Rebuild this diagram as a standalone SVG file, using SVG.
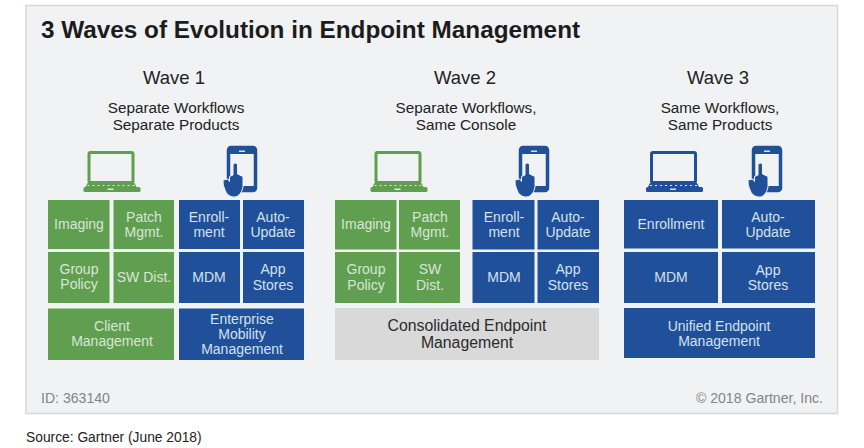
<svg xmlns="http://www.w3.org/2000/svg" width="864" height="448" viewBox="0 0 864 448">
<style>
text{font-family:"Liberation Sans",Arial,sans-serif;text-anchor:middle}
.g{fill:#5f9f4f}.b{fill:#1f5099}.k{fill:#d9d9d9}
.t{fill:#d8e6d8;font-size:14px}.u{fill:#d5e0ee;font-size:14px}
.w{font-size:18.5px;fill:#222}.s{font-size:15.300px;fill:#222}
.f{font-size:14.100px;fill:#808588}
.c{font-size:15.800px;fill:#2b2b2b}
</style>
<defs>
<g id="laptop">
<rect x="-22.500" y="-35.500" width="44" height="30" rx="1.500" fill="none" stroke="currentColor" stroke-width="3"/>
<path d="M-24 -5H23L25 -1H-26Z" fill="currentColor"/>
<rect x="-28" y="-1" width="57" height="5" rx="1.500" fill="currentColor"/>
<path d="M-24 -2.500H24" stroke="#dfe8df" stroke-width="1" stroke-dasharray="2 3"/>
<rect x="-4" y="0.500" width="6" height="1.500" fill="#dfe8df"/>
</g>
<g id="tablet">
<rect x="-13.500" y="-45.500" width="27" height="43" rx="2.500" fill="none" stroke="currentColor" stroke-width="3.500"/>
<rect x="-13" y="-44" width="26" height="5" fill="currentColor"/>
<rect x="-3" y="-42.500" width="6" height="1.500" fill="#d5e0ee"/>
<rect x="-12" y="-7" width="25" height="5" fill="currentColor"/>
<path d="M-9 -28Q-9 -30 -6.800 -30Q-4.500 -30 -4.500 -28V-19L1 -16.500V-6Q0 -1 -2 1Q-5 5 -9 4Q-15 3 -17 -3Q-19.500 -8 -19 -13L-14 -14L-12.500 -11.500V-16.500L-9 -18Z" fill="currentColor" stroke="#f1f2f3" stroke-width="1"/>
</g>
</defs>
<rect width="864" height="448" fill="#fff"/>
<rect x="26" y="5.500" width="811.500" height="408" fill="#f1f2f3" stroke="#d6d8da" stroke-width="1.500"/>
<text x="41" y="38" style="text-anchor:start;font-size:24.300px;font-weight:bold" fill="#1c1c1c">3 Waves of Evolution in Endpoint Management</text>
<g id="wave1">
<text class="w" x="174" y="84">Wave 1</text>
<text class="s" x="176" y="113">Separate Workflows</text>
<text class="s" x="176" y="130">Separate Products</text>
<use href="#laptop" x="111.500" y="188" color="#5f9f4f"/>
<use href="#tablet" x="242" y="193" color="#1f5099"/>
<rect class="g" x="48" y="200" width="61.500" height="49"/><text class="t" x="79" y="229">Imaging</text>
<rect class="g" x="113.500" y="200" width="60.500" height="49"/><text class="t" x="144" y="222">Patch</text><text class="t" x="144" y="237">Mgmt.</text>
<rect class="g" x="48" y="252" width="61.500" height="51"/><text class="t" x="79" y="274">Group</text><text class="t" x="79" y="289">Policy</text>
<rect class="g" x="113.500" y="252" width="60.500" height="51"/><text class="t" x="144" y="282">SW Dist.</text>
<rect class="g" x="48" y="308.500" width="126" height="51.500"/><text class="t" x="112" y="331">Client</text><text class="t" x="112" y="346">Management</text>
<rect class="b" x="179" y="200" width="61" height="49"/><text class="u" x="209" y="222">Enroll-</text><text class="u" x="209" y="237">ment</text>
<rect class="b" x="243" y="200" width="61" height="49"/><text class="u" x="273" y="222">Auto-</text><text class="u" x="273" y="237">Update</text>
<rect class="b" x="179" y="252" width="61" height="51"/><text class="u" x="209" y="282">MDM</text>
<rect class="b" x="243" y="252" width="61" height="51"/><text class="u" x="273" y="274">App</text><text class="u" x="273" y="290">Stores</text>
<rect class="b" x="179" y="308.500" width="125" height="51.500"/><text class="u" x="242" y="324">Enterprise</text><text class="u" x="242" y="339">Mobility</text><text class="u" x="242" y="354">Management</text>
</g>
<g id="wave2">
<text class="w" x="465" y="84">Wave 2</text>
<text class="s" x="466" y="113">Separate Workflows,</text>
<text class="s" x="466" y="130">Same Console</text>
<use href="#laptop" x="398.500" y="188" color="#5f9f4f"/>
<use href="#tablet" x="534" y="193" color="#1f5099"/>
<rect class="g" x="335" y="200" width="61.500" height="49.500"/><text class="t" x="366" y="229">Imaging</text>
<rect class="g" x="399" y="200" width="61" height="49.500"/><text class="t" x="430" y="222">Patch</text><text class="t" x="430" y="237">Mgmt.</text>
<rect class="g" x="335" y="252" width="61.500" height="51"/><text class="t" x="366" y="274">Group</text><text class="t" x="366" y="290">Policy</text>
<rect class="g" x="399" y="252" width="61" height="51"/><text class="t" x="430" y="274">SW</text><text class="t" x="430" y="290">Dist.</text>
<rect class="b" x="472.500" y="200" width="62" height="49.500"/><text class="u" x="504" y="222">Enroll-</text><text class="u" x="504" y="237">ment</text>
<rect class="b" x="537.500" y="200" width="61.500" height="49.500"/><text class="u" x="568" y="222">Auto-</text><text class="u" x="568" y="237">Update</text>
<rect class="b" x="472.500" y="252" width="62" height="51"/><text class="u" x="504" y="282">MDM</text>
<rect class="b" x="537.500" y="252" width="61.500" height="51"/><text class="u" x="568" y="274">App</text><text class="u" x="568" y="290">Stores</text>
<rect class="k" x="335" y="308" width="264" height="52"/><text class="c" x="467" y="331">Consolidated Endpoint</text><text class="c" x="467" y="348">Management</text>
</g>
<g id="wave3">
<text class="w" x="718" y="84">Wave 3</text>
<text class="s" x="720" y="113">Same Workflows,</text>
<text class="s" x="720" y="130">Same Products</text>
<use href="#laptop" x="674" y="188" color="#1f5099"/>
<use href="#tablet" x="767" y="193" color="#1f5099"/>
<rect class="b" x="624" y="200" width="94" height="48.500"/><text class="u" x="671" y="229">Enrollment</text>
<rect class="b" x="722" y="200" width="93" height="48.500"/><text class="u" x="768" y="222">Auto-</text><text class="u" x="768" y="237">Update</text>
<rect class="b" x="624" y="252" width="94" height="51"/><text class="u" x="671" y="282">MDM</text>
<rect class="b" x="722" y="252" width="93" height="51"/><text class="u" x="768" y="275">App</text><text class="u" x="768" y="290">Stores</text>
<rect class="b" x="624" y="308" width="191" height="50"/><text class="u" x="719" y="331">Unified Endpoint</text><text class="u" x="719" y="346">Management</text>
</g>
<text class="f" x="41" y="403" style="text-anchor:start">ID: 363140</text>
<text class="f" x="823" y="403" style="text-anchor:end">© 2018 Gartner, Inc.</text>
<text x="26" y="442" style="text-anchor:start;font-size:13.800px" fill="#222">Source: Gartner (June 2018)</text>
</svg>
